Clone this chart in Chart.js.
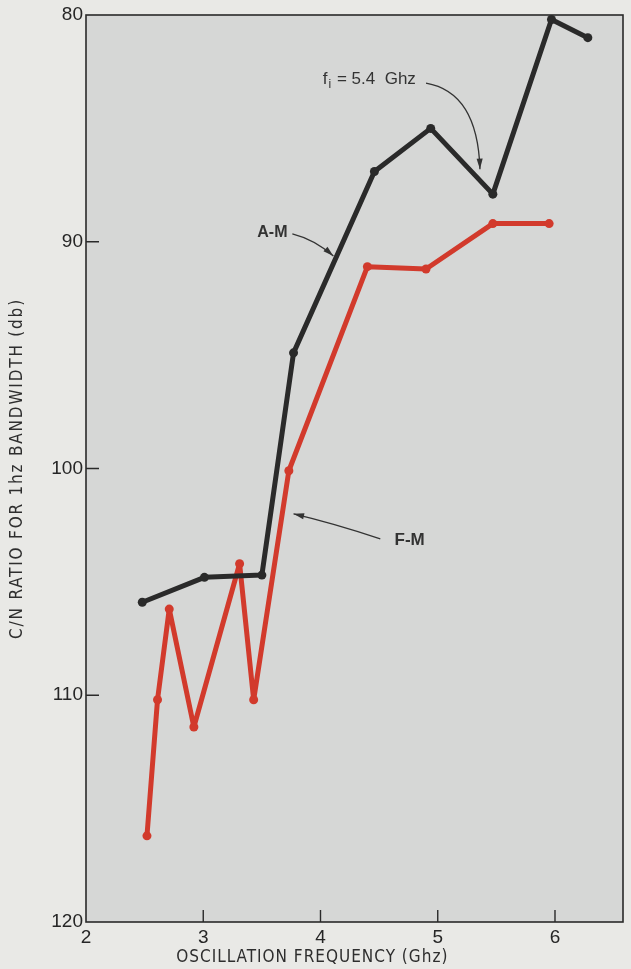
<!DOCTYPE html>
<html><head><meta charset="utf-8">
<script src="https://cdn.jsdelivr.net/npm/chart.js@4/dist/chart.umd.min.js"></script>
<style>html,body{margin:0;padding:0;background:#e9e9e6;}#wrap{width:631px;height:969px;}</style>
</head><body><div id="wrap"><canvas id="c" width="631" height="969"></canvas></div>
<script>
// A-M curve (black)
const amFreq  = [2.48, 3.01, 3.50, 3.77, 4.46, 4.94, 5.47, 5.97, 6.28];
const amRatio = [105.9, 104.8, 104.7, 94.9, 86.9, 85.0, 87.9, 80.2, 81.0];
// F-M curve (red)
const fmFreq  = [2.52, 2.61, 2.71, 2.92, 3.31, 3.43, 3.73, 4.40, 4.90, 5.47, 5.95];
const fmRatio = [116.2, 110.2, 106.2, 111.4, 104.2, 110.2, 100.1, 91.1, 91.2, 89.2, 89.2];
const xTicks = [2, 3, 4, 5, 6];
const yTicks = [80, 90, 100, 110, 120];
const xTitle = 'OSCILLATION FREQUENCY (Ghz)';
const yTitle = 'C/N RATIO FOR 1hz BANDWIDTH (db)';

const PAGE_BG = '#e9e9e6', PLOT_BG = '#d6d7d6', INK = '#2a2a2a', RED = '#d23a2c';
const NARROW = "'Liberation Sans Narrow','DejaVu Sans Condensed','Roboto Condensed','Liberation Sans',sans-serif";

const pts = (xs, ys) => xs.map((x, i) => ({x, y: ys[i]}));

const decor = {
  id: 'decor',
  beforeDraw(chart) {
    const {ctx, chartArea: a} = chart;
    ctx.save();
    ctx.fillStyle = PAGE_BG;
    ctx.fillRect(0, 0, chart.width, chart.height);
    ctx.fillStyle = PLOT_BG;
    ctx.fillRect(a.left, a.top, a.right - a.left, a.bottom - a.top);
    ctx.restore();
  },
  beforeDatasetsDraw(chart) {
    const {ctx, chartArea: a, scales: {x, y}} = chart;
    ctx.save();
    ctx.strokeStyle = INK;
    ctx.lineWidth = 1.6;
    ctx.strokeRect(a.left, a.top, a.right - a.left, a.bottom - a.top);
    ctx.lineWidth = 1.4;
    ctx.beginPath();
    yTicks.slice(1, -1).forEach(v => {
      const py = y.getPixelForValue(v);
      ctx.moveTo(a.left, py); ctx.lineTo(a.left + 13, py);
    });
    xTicks.slice(1).forEach(v => {
      const px = x.getPixelForValue(v);
      ctx.moveTo(px, a.bottom); ctx.lineTo(px, a.bottom - 12);
    });
    ctx.stroke();
    ctx.restore();
  },
  afterDatasetsDraw(chart) {
    const {ctx, chartArea: a, scales: {x, y}} = chart;
    const P = (vx, vy) => [x.getPixelForValue(vx), y.getPixelForValue(vy)];
    ctx.save();
    ctx.fillStyle = '#333';
    ctx.strokeStyle = '#333';
    ctx.lineWidth = 1.3;
    const arrow = (from, ctrl, to) => {
      ctx.beginPath();
      ctx.moveTo(from[0], from[1]);
      ctx.quadraticCurveTo(ctrl[0], ctrl[1], to[0], to[1]);
      ctx.stroke();
      const ang = Math.atan2(to[1] - ctrl[1], to[0] - ctrl[0]);
      const L = 11, W = 0.28;
      ctx.beginPath();
      ctx.moveTo(to[0], to[1]);
      ctx.lineTo(to[0] - L * Math.cos(ang - W), to[1] - L * Math.sin(ang - W));
      ctx.lineTo(to[0] - L * Math.cos(ang + W), to[1] - L * Math.sin(ang + W));
      ctx.closePath();
      ctx.fill();
    };
    // A-M label
    ctx.font = "bold 16px 'Liberation Sans',sans-serif";
    ctx.textAlign = 'center'; ctx.textBaseline = 'middle';
    let t = P(3.59, 89.6);
    ctx.fillText('A-M', t[0], t[1]);
    arrow(P(3.76, 89.65), P(3.95, 89.9), P(4.11, 90.63));
    // F-M label
    ctx.font = "bold 17px 'Liberation Sans',sans-serif";
    t = P(4.76, 103.15);
    ctx.fillText('F-M', t[0], t[1]);
    arrow(P(4.51, 103.1), P(4.1, 102.4), P(3.77, 102.0));
    // f_i = 5.4 Ghz label
    ctx.font = "17px 'Liberation Sans',sans-serif";
    ctx.textAlign = 'left';
    t = P(4.02, 82.85);
    ctx.fillText('f', t[0], t[1]);
    let w = ctx.measureText('f').width;
    ctx.font = "12px 'Liberation Sans',sans-serif";
    ctx.fillText('i', t[0] + w + 1, t[1] + 5);
    w += ctx.measureText('i').width + 2;
    ctx.font = "17px 'Liberation Sans',sans-serif";
    ctx.fillText(' = 5.4  Ghz', t[0] + w, t[1]);
    arrow(P(4.9, 83.0), P(5.34, 83.4), P(5.36, 86.8));
    // axis titles
    ctx.fillStyle = '#2e2e2e';
    ctx.textAlign = 'center'; ctx.textBaseline = 'middle';
    ctx.font = '17px ' + NARROW;
    ctx.letterSpacing = '1px';
    t = P(3.93, 120);
    ctx.fillText(xTitle, t[0], 958);
    ctx.letterSpacing = '1.8px';
    ctx.translate(18, (a.top + a.bottom) / 2);
    ctx.rotate(-Math.PI / 2);
    ctx.fillText(yTitle, 0, 0);
    ctx.letterSpacing = '0px';
    ctx.restore();
  }
};

new Chart(document.getElementById('c'), {
  type: 'line',
  data: {
    datasets: [
      {label: 'A-M', data: pts(amFreq, amRatio), borderColor: INK, backgroundColor: INK,
       borderWidth: 5, pointRadius: 4.5, pointBorderWidth: 0, tension: 0},
      {label: 'F-M', data: pts(fmFreq, fmRatio), borderColor: RED, backgroundColor: RED,
       borderWidth: 5, pointRadius: 4.5, pointBorderWidth: 0, tension: 0}
    ]
  },
  options: {
    responsive: false,
    animation: false,
    clip: false,
    layout: {padding: {top: 15, right: 8, bottom: 0, left: 0}},
    plugins: {legend: {display: false}, tooltip: {enabled: false}},
    elements: {line: {borderJoinStyle: 'round', borderCapStyle: 'round'}},
    scales: {
      x: {
        type: 'linear', min: 2, max: 6.58,
        grid: {display: false, drawTicks: false}, border: {display: false},
        afterBuildTicks: s => { s.ticks = xTicks.map(v => ({value: v})); },
        afterFit: s => { s.height = 47; },
        ticks: {color: '#262626', padding: 4, maxRotation: 0, autoSkip: false,
                font: {size: 19, family: "'Liberation Sans',sans-serif"}}
      },
      y: {
        type: 'linear', min: 80, max: 120, reverse: true,
        grid: {display: false, drawTicks: false}, border: {display: false},
        afterBuildTicks: s => { s.ticks = yTicks.map(v => ({value: v})); },
        afterFit: s => { s.width = 86; },
        ticks: {color: '#262626', padding: 3, autoSkip: false,
                font: {size: 19, family: "'Liberation Sans',sans-serif"}}
      }
    }
  },
  plugins: [decor]
});
</script></body></html>
